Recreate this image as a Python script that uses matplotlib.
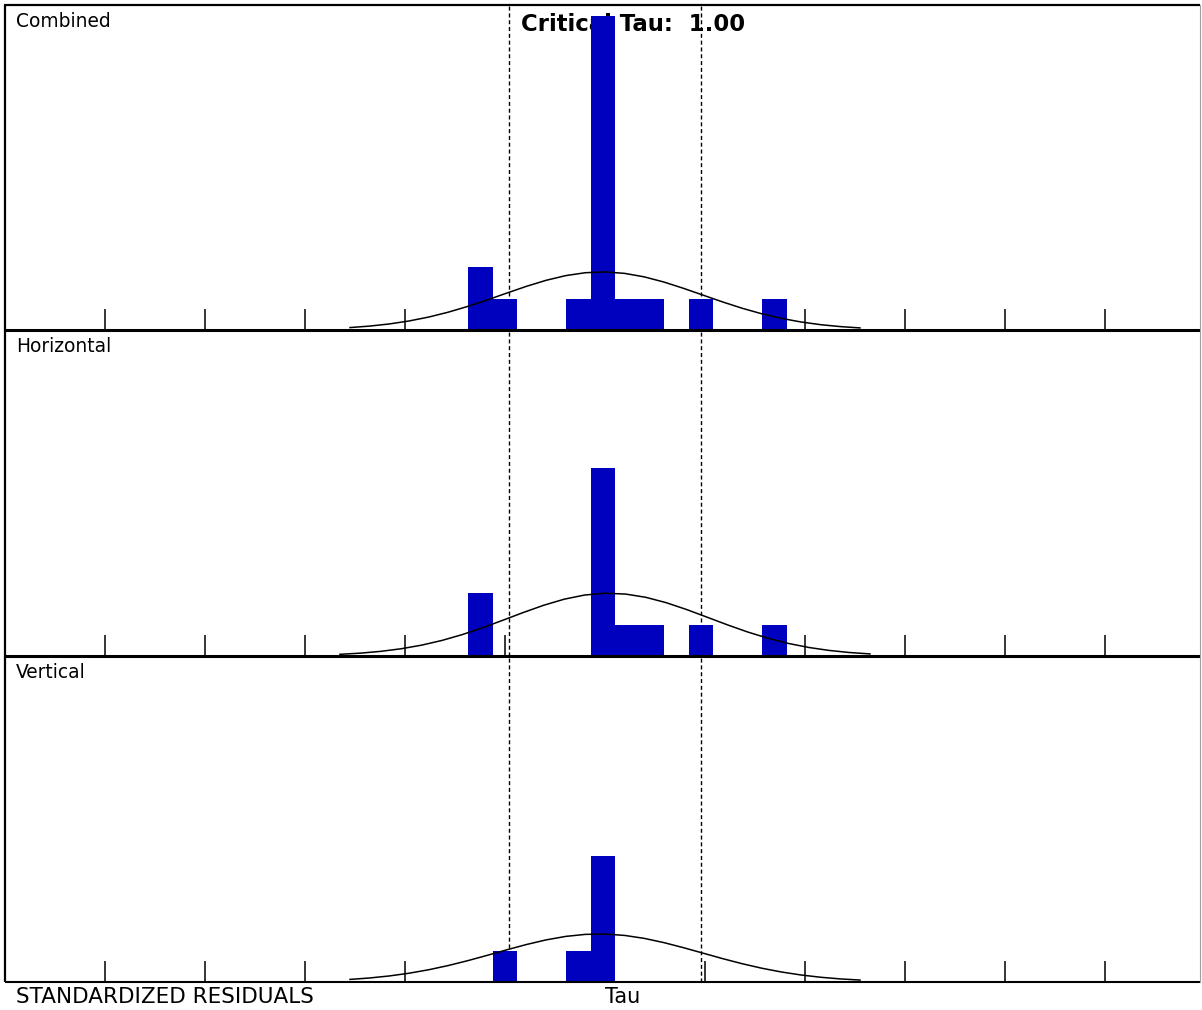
import numpy as np
import matplotlib
matplotlib.use("Agg")
import matplotlib.pyplot as plt
from matplotlib.lines import Line2D

# ---------------- data ----------------
panel_names = ["Combined", "Horizontal", "Vertical"]
bin_centers = [-1.245, -1.0, -0.265, -0.02, 0.225, 0.47, 0.96, 1.695]
bin_width = 0.245
combined_counts = [2, 1, 1, 10, 1, 1, 1, 1]
horizontal_counts = [2, 0, 0, 6, 1, 1, 1, 1]
vertical_counts = [0, 1, 1, 4, 0, 0, 0, 0]
panel_counts = [combined_counts, horizontal_counts, vertical_counts]

# normal-curve overlay parameters (mean, sd, peak height in counts, x-range)
curve_means = [-0.03, 0.04, -0.06]
curve_sds = [1.0, 1.0, 1.03]
curve_peaks = [1.85, 2.0, 1.53]
curve_lo = [-2.55, -2.65, -2.55]
curve_hi = [2.55, 2.65, 2.55]

tick_values = [-5, -4, -3, -2, -1, 0, 1, 2, 3, 4, 5]
critical_tau = 0.96
title_text = "Critical Tau:  1.00"
x_label_left = "STANDARDIZED RESIDUALS"
x_label_tau = "Tau"

# ---------------- layout ----------------
W, H = 1202, 1010
fig = plt.figure(figsize=(W / 100, H / 100), dpi=100)
fig.patch.set_facecolor("white")

def fx(px):
    return px / W

def fy(py):
    return 1 - py / H

panel_top = [5, 330, 656]
panel_base = [330, 656, 982]
unit_px = 31.4  # pixels per count
bar_color = "#0000BF"

axes = []
for i in range(3):
    t, b = panel_top[i], panel_base[i]
    ax = fig.add_axes([0, fy(b), 1, (b - t) / H])
    ax.set_xlim(-6.05, 5.97)
    ax.set_ylim(0, (b - t) / unit_px)
    ax.axis("off")
    ax.patch.set_visible(False)
    axes.append(ax)

    # dashed critical tau lines
    for v in (-critical_tau, critical_tau):
        ax.axvline(v, color="black", lw=1.0, ls=(0, (2.9, 2.0)), zorder=1)

    # ticks
    tick_len = 21 / unit_px
    ax.vlines(tick_values, 0, tick_len, color="black", lw=1.1, zorder=1.2)

    # bars
    ax.bar(bin_centers, panel_counts[i], width=bin_width, color=bar_color,
           edgecolor="none", zorder=2)

    # normal curve
    xs = np.linspace(curve_lo[i], curve_hi[i], 27)
    ys = curve_peaks[i] * np.exp(-0.5 * ((xs - curve_means[i]) / curve_sds[i]) ** 2)
    ax.plot(xs, ys, color="black", lw=1.1, zorder=3, clip_on=False)

    # baseline
    ax.axhline(0, xmin=fx(5), xmax=fx(1200), color="black",
               lw=2.2 if i < 2 else 1.5, zorder=3, solid_capstyle="butt",
               clip_on=False)

    # panel label
    ax.text(fx(16), fy(t + 22), panel_names[i], transform=fig.transFigure,
            family=["DejaVu Sans"], fontsize=13.4, va="baseline", ha="left",
            color="black", zorder=1.5)

# title (under the bars)
axes[0].text(fx(521), fy(31), title_text, transform=fig.transFigure,
             family=["DejaVu Sans"], fontweight="bold", fontsize=16.4,
             va="baseline", ha="left", color="black", zorder=1.5, clip_on=False)

# bottom labels
fig.text(fx(16), fy(1003), x_label_left, family=["DejaVu Sans"], fontsize=15.5,
         va="baseline", ha="left", color="black")
fig.text(fx(605), fy(1003), x_label_tau, family=["DejaVu Sans"], fontsize=15,
         va="baseline", ha="left", color="black")

# frame
fig.add_artist(Line2D([fx(5), fx(5)], [fy(5), fy(982)], transform=fig.transFigure,
                      color="black", lw=1.6, solid_capstyle="butt"))
fig.add_artist(Line2D([fx(4), fx(1200)], [fy(5), fy(5)], transform=fig.transFigure,
                      color="black", lw=1.6, solid_capstyle="butt"))
fig.add_artist(Line2D([fx(1200), fx(1200)], [fy(5), fy(982)], transform=fig.transFigure,
                      color="#a0a0a0", lw=0.8))

fig.savefig("out.png", dpi=100, facecolor="white")
